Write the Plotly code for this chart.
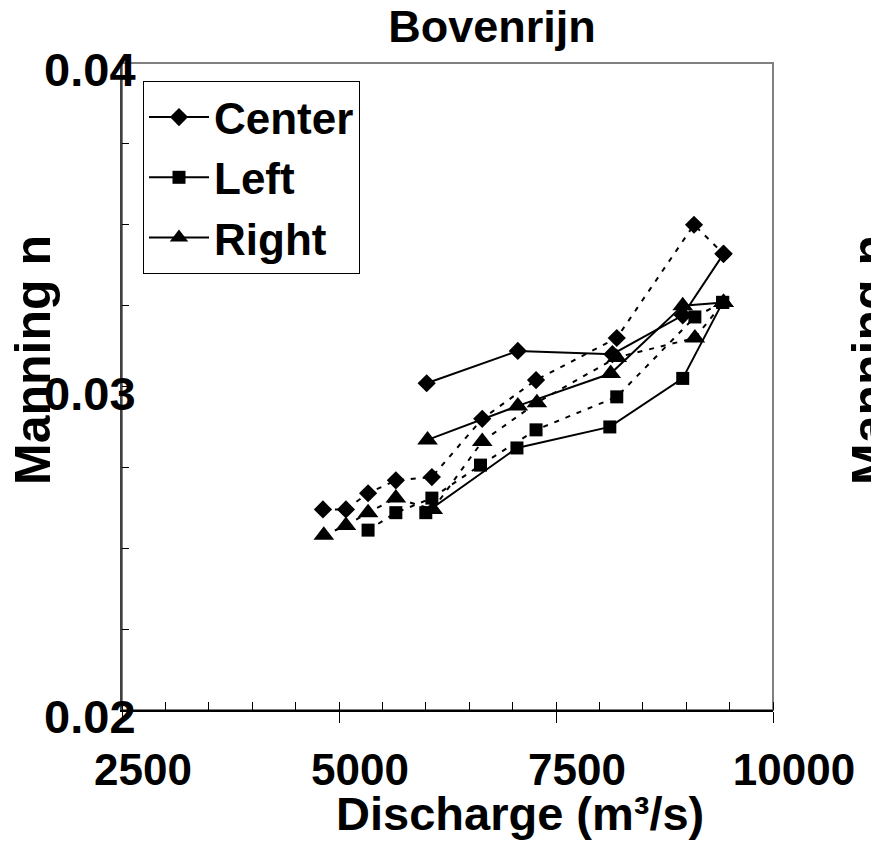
import plotly.graph_objects as go

# ---------------- data ----------------
x_tick_vals = [2500, 5000, 7500, 10000]
x_tick_text = ["2500", "5000", "7500", "10000"]
y_tick_vals = [0.02, 0.03, 0.04]

# solid-line series (shown in legend)
center_solid_x = [6010, 7060, 8150, 8960, 9430]
center_solid_n = [0.0301, 0.0311, 0.0310, 0.0322, 0.0341]
left_solid_x = [6000, 7050, 8120, 8960, 9420]
left_solid_n = [0.0261, 0.0281, 0.02875, 0.03025, 0.0326]
right_solid_x = [6020, 7060, 8130, 8960, 9430]
right_solid_n = [0.02835, 0.0294, 0.0304, 0.0325, 0.0326]

# dashed-line series
center_dash_x = [4815, 5080, 5335, 5655, 6070, 6650, 7270, 8200, 9090, 9430]
center_dash_n = [0.0262, 0.0262, 0.0267, 0.0271, 0.0272, 0.0290, 0.0302, 0.0315, 0.0350, 0.0341]
left_dash_x = [5335, 5655, 6070, 6630, 7270, 8200, 9100, 9420]
left_dash_n = [0.02556, 0.0261, 0.02655, 0.02757, 0.02866, 0.02968, 0.03215, 0.0326]
right_dash_x = [4825, 5080, 5335, 5655, 6080, 6650, 7280, 8200, 9100, 9430]
right_dash_n = [0.0254, 0.0257, 0.0261, 0.02655, 0.0262, 0.0283, 0.0295, 0.0309, 0.0315, 0.0326]

FONT = "Liberation Sans, Arial, sans-serif"

fig = go.Figure()


def add(name, x, y, symbol, size, dash, showlegend):
    fig.add_trace(go.Scatter(
        x=x, y=y, mode="lines+markers", name=name, showlegend=showlegend,
        line=dict(color="black", width=2, dash=dash),
        marker=dict(symbol=symbol, size=size, color="black"),
    ))


add("Center", center_solid_x, center_solid_n, "diamond", 14, "solid", True)
add("Left", left_solid_x, left_solid_n, "square", 13, "solid", True)
add("Right", right_solid_x, right_solid_n, "triangle-up", 18, "solid", True)
add("Center", center_dash_x, center_dash_n, "diamond", 14, "5px,7px", False)
add("Left", left_dash_x, left_dash_n, "square", 13, "5px,7px", False)
add("Right", right_dash_x, right_dash_n, "triangle-up", 18, "5px,7px", False)

L, R, T, B = 122, 773, 63, 710
W, H = 871, 845
pw, ph = R - L, B - T

fig.update_layout(
    width=W, height=H, autosize=False,
    margin=dict(l=L, r=W - R, t=T, b=H - B, pad=0),
    paper_bgcolor="white", plot_bgcolor="white",
    title=dict(text="Bovenrijn", x=492 / W, xanchor="center", y=1 - 26 / H, yanchor="middle",
               font=dict(family=FONT, size=45, weight="bold", color="black")),
    legend=dict(x=(143 - L) / pw, y=(B - 81) / ph, xanchor="left", yanchor="top",
                bordercolor="black", borderwidth=1, bgcolor="white", itemwidth=60,
                font=dict(family=FONT, size=44, weight="bold", color="black")),
    xaxis=dict(range=[2500, 10000], tickvals=x_tick_vals, ticktext=x_tick_text, ticks="outside", ticklen=11,
               tickcolor="black", tickwidth=1, showline=True, linecolor="black", linewidth=2,
               showgrid=False, zeroline=False, ticklabelshift=21, ticklabelstandoff=9,
               minor=dict(dtick=500, tick0=2500, ticks="inside", ticklen=8, tickcolor="black", tickwidth=1),
               tickfont=dict(family=FONT, size=44, weight="bold", color="black")),
    yaxis=dict(range=[0.02, 0.04], tickvals=y_tick_vals, tickformat=".2f", ticks="inside", ticklen=7,
               tickcolor="black", tickwidth=1, showline=True, linecolor="#404040", linewidth=2,
               showgrid=False, zeroline=False, ticklabelshift=7, ticklabelstandoff=-25,
               minor=dict(dtick=0.0025, tick0=0.02, ticks="inside", ticklen=7, tickcolor="black"),
               tickfont=dict(family=FONT, size=47, weight="bold", color="black")),
    shapes=[dict(type="rect", xref="x domain", yref="y domain", x0=0, x1=1, y0=0, y1=1,
                 line=dict(color="#808080", width=2), layer="below")],
    annotations=[
        dict(text="Manning n", textangle=-90, xref="paper", yref="paper",
             x=(33 - L) / pw, y=(B - 360) / ph, xanchor="center", yanchor="middle", showarrow=False,
             font=dict(family=FONT, size=50, weight="bold", color="black")),
        dict(text="Manning n", textangle=-90, xref="paper", yref="paper",
             x=(870 - L) / pw, y=(B - 360) / ph, xanchor="center", yanchor="middle", showarrow=False,
             font=dict(family=FONT, size=50, weight="bold", color="black")),
        dict(text="Discharge (m³/s)", xref="paper", yref="paper",
             x=(520 - L) / pw, y=(B - 813) / ph, xanchor="center", yanchor="middle", showarrow=False,
             font=dict(family=FONT, size=47, weight="bold", color="black")),
    ],
)

fig.write_html("out.html")
